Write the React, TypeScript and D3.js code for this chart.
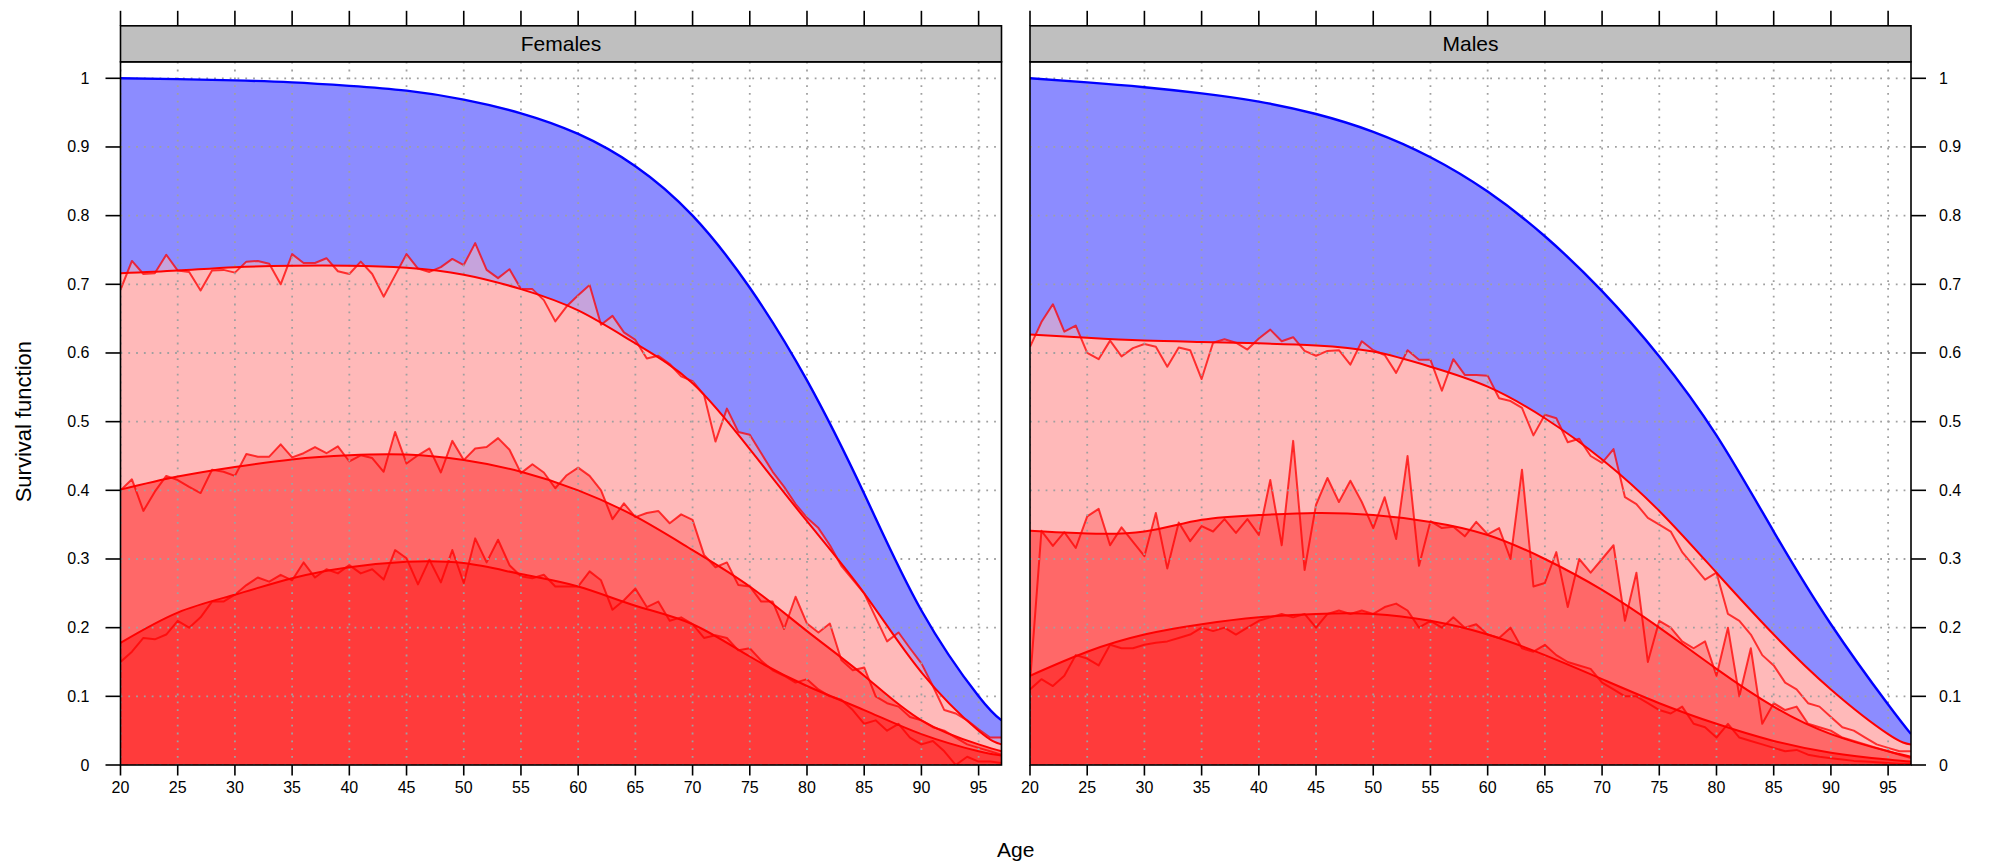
import React from "react";
import * as d3 from "d3";

// ---------- data ----------
const AGES = d3.range(20, 98); // single years of age 20..97
const KNOTS = [20, 25, 30, 35, 40, 45, 50, 55, 60, 65, 70, 75, 80, 85, 90, 95, 97];
const X_TICKS = [20, 25, 30, 35, 40, 45, 50, 55, 60, 65, 70, 75, 80, 85, 90, 95];
const Y_TICKS = [0, 0.1, 0.2, 0.3, 0.4, 0.5, 0.6, 0.7, 0.8, 0.9, 1];
const Y_LABELS = ["0", "0.1", "0.2", "0.3", "0.4", "0.5", "0.6", "0.7", "0.8", "0.9", "1"];
const PANELS = ["Females", "Males"];

// Females
const F_BLUE = [1.0, 0.9988, 0.997, 0.994, 0.989, 0.982, 0.969, 0.949, 0.919, 0.872, 0.8, 0.695, 0.56, 0.395, 0.225, 0.1, 0.065];
const F_S1 = [0.716, 0.72, 0.725, 0.727, 0.727, 0.724, 0.714, 0.693, 0.662, 0.614, 0.556, 0.46, 0.355, 0.25, 0.135, 0.05, 0.03];
const F_S2 = [0.401, 0.42, 0.434, 0.445, 0.451, 0.452, 0.444, 0.427, 0.4, 0.362, 0.313, 0.26, 0.195, 0.13, 0.065, 0.03, 0.02];
const F_S3 = [0.178, 0.222, 0.248, 0.272, 0.288, 0.296, 0.294, 0.278, 0.26, 0.232, 0.205, 0.158, 0.115, 0.08, 0.045, 0.02, 0.014];
const F_N1 = [
  0.692, 0.734, 0.715, 0.716, 0.743, 0.72, 0.718, 0.691, 0.72, 0.721,
  0.717, 0.733, 0.734, 0.73, 0.7, 0.744, 0.731, 0.731, 0.738, 0.719,
  0.715, 0.733, 0.715, 0.682, 0.713, 0.744, 0.723, 0.718, 0.725, 0.737,
  0.728, 0.76, 0.721, 0.709, 0.722, 0.693, 0.693, 0.677, 0.646, 0.668,
  0.684, 0.699, 0.641, 0.654, 0.63, 0.619, 0.592, 0.596, 0.584, 0.566,
  0.559, 0.539, 0.471, 0.519, 0.485, 0.481, 0.454, 0.427, 0.405, 0.38,
  0.36, 0.345, 0.32, 0.29, 0.27, 0.25, 0.215, 0.18, 0.193, 0.17,
  0.148, 0.115, 0.08, 0.075, 0.065, 0.052, 0.04, 0.04,
];
const F_N2 = [
  0.4, 0.416, 0.37, 0.398, 0.421, 0.415, 0.405, 0.396, 0.43, 0.427,
  0.421, 0.453, 0.449, 0.449, 0.467, 0.448, 0.454, 0.463, 0.454, 0.464,
  0.442, 0.451, 0.447, 0.427, 0.485, 0.439, 0.451, 0.461, 0.426, 0.472,
  0.444, 0.461, 0.463, 0.476, 0.459, 0.425, 0.438, 0.426, 0.403, 0.422,
  0.433, 0.421, 0.4, 0.358, 0.381, 0.361, 0.367, 0.37, 0.352, 0.365,
  0.357, 0.306, 0.288, 0.295, 0.262, 0.26, 0.238, 0.238, 0.198, 0.245,
  0.206, 0.193, 0.206, 0.153, 0.138, 0.142, 0.1, 0.09, 0.085, 0.07,
  0.065, 0.055, 0.05, 0.04, 0.03, 0.025, 0.02, 0.015,
];
const F_N3 = [
  0.15, 0.165, 0.185, 0.183, 0.19, 0.21, 0.2, 0.215, 0.238, 0.238,
  0.248, 0.262, 0.273, 0.267, 0.277, 0.269, 0.295, 0.273, 0.285, 0.279,
  0.291, 0.279, 0.285, 0.27, 0.313, 0.301, 0.263, 0.299, 0.266, 0.313,
  0.265, 0.33, 0.295, 0.328, 0.291, 0.275, 0.272, 0.277, 0.26, 0.26,
  0.26, 0.282, 0.269, 0.226, 0.24, 0.257, 0.23, 0.238, 0.21, 0.215,
  0.205, 0.185, 0.189, 0.185, 0.167, 0.17, 0.152, 0.138, 0.13, 0.12,
  0.125, 0.11, 0.1, 0.095, 0.08, 0.06, 0.065, 0.05, 0.06, 0.04,
  0.03, 0.035, 0.02, 0.0, 0.012, 0.005, 0.005, 0.003,
];

// Males
const M_BLUE = [1.0, 0.994, 0.987, 0.978, 0.966, 0.948, 0.922, 0.885, 0.835, 0.77, 0.69, 0.595, 0.48, 0.34, 0.205, 0.088, 0.045];
const M_S1 = [0.627, 0.622, 0.618, 0.616, 0.614, 0.611, 0.602, 0.58, 0.551, 0.505, 0.445, 0.37, 0.28, 0.19, 0.11, 0.045, 0.03];
const M_S2 = [0.341, 0.337, 0.34, 0.357, 0.364, 0.367, 0.364, 0.354, 0.335, 0.3, 0.255, 0.2, 0.14, 0.085, 0.045, 0.02, 0.012];
const M_S3 = [0.13, 0.165, 0.19, 0.205, 0.215, 0.22, 0.22, 0.21, 0.19, 0.16, 0.125, 0.09, 0.06, 0.035, 0.018, 0.008, 0.005];
const M_N1 = [
  0.609, 0.645, 0.671, 0.631, 0.64, 0.6, 0.591, 0.618, 0.595, 0.607,
  0.613, 0.609, 0.58, 0.608, 0.604, 0.562, 0.615, 0.62, 0.615, 0.605,
  0.621, 0.634, 0.617, 0.623, 0.603, 0.596, 0.603, 0.604, 0.583, 0.617,
  0.604, 0.597, 0.571, 0.604, 0.59, 0.59, 0.545, 0.591, 0.568, 0.568,
  0.567, 0.534, 0.53, 0.52, 0.48, 0.51, 0.505, 0.47, 0.475, 0.45,
  0.44, 0.46, 0.39, 0.38, 0.36, 0.35, 0.34, 0.31, 0.29, 0.27,
  0.28, 0.22, 0.21, 0.19, 0.16, 0.145, 0.12, 0.11, 0.09, 0.085,
  0.07, 0.055, 0.05, 0.04, 0.03, 0.025, 0.02, 0.02,
];
const M_N2 = [
  0.12, 0.341, 0.319, 0.339, 0.316, 0.362, 0.373, 0.32, 0.346, 0.325,
  0.304, 0.367, 0.286, 0.353, 0.326, 0.348, 0.34, 0.358, 0.338, 0.358,
  0.335, 0.415, 0.32, 0.472, 0.284, 0.379, 0.418, 0.383, 0.414, 0.383,
  0.345, 0.39, 0.329, 0.45, 0.29, 0.355, 0.345, 0.347, 0.333, 0.354,
  0.336, 0.345, 0.3, 0.43, 0.26, 0.265, 0.31, 0.23, 0.3, 0.28,
  0.3, 0.32, 0.21, 0.28, 0.15, 0.21, 0.2, 0.18, 0.17, 0.18,
  0.13, 0.2, 0.1, 0.17, 0.06, 0.09, 0.08, 0.085, 0.06, 0.055,
  0.05, 0.04, 0.035, 0.03, 0.025, 0.02, 0.015, 0.01,
];
const M_N3 = [
  0.11, 0.125, 0.115, 0.13, 0.16, 0.155, 0.145, 0.175, 0.17, 0.17,
  0.175, 0.178, 0.18, 0.185, 0.19, 0.2, 0.195, 0.2, 0.19, 0.2,
  0.21, 0.215, 0.22, 0.215, 0.22, 0.2, 0.22, 0.225, 0.22, 0.225,
  0.22, 0.23, 0.235, 0.225, 0.2, 0.21, 0.2, 0.215, 0.2, 0.205,
  0.19, 0.185, 0.2, 0.17, 0.165, 0.175, 0.16, 0.15, 0.145, 0.14,
  0.12, 0.11, 0.1, 0.1, 0.09, 0.08, 0.075, 0.085, 0.06, 0.055,
  0.04, 0.06, 0.04, 0.035, 0.03, 0.025, 0.02, 0.022, 0.015, 0.012,
  0.01, 0.008, 0.006, 0.005, 0.004, 0.003, 0.002, 0.002,
];

const DATA = [
  { blue: F_BLUE, smooth: [F_S1, F_S2, F_S3], noisy: [F_N1, F_N2, F_N3] },
  { blue: M_BLUE, smooth: [M_S1, M_S2, M_S3], noisy: [M_N1, M_N2, M_N3] },
];

// ---------- styling ----------
const W = 2012;
const H = 865;
const PANEL_X0 = [120.5, 1030];
const PANEL_W = 881;
const Y0 = 765;
const Y1 = 78.3;
const Y_MAX = 1.024;
const STRIP_H = 36;
const TICK = 15;
const FONT = "'Liberation Sans', Arial, Helvetica, sans-serif";
const BLUE_FILL = "#8C8CFF";
const BLUE_LINE = "#0000FF";
const LAYER_FILL = ["#FFB9B9", "#FF6868", "#FF3B3B"];
const GRID = "#A0A0A0";

function Panel({ idx }: { idx: number }) {
  const x0 = PANEL_X0[idx];
  const d = DATA[idx];
  const x = d3.scaleLinear().domain([20, 97]).range([x0, x0 + PANEL_W]);
  const y = d3.scaleLinear().domain([0, 1]).range([Y0, Y1]);
  const top = y(Y_MAX);
  const clipId = `clip${idx}`;

  const knotArea = d3
    .area<number>()
    .x((_, i) => x(KNOTS[i]))
    .y0(y(0))
    .y1((v) => y(v))
    .curve(d3.curveNatural);
  const knotLine = d3
    .line<number>()
    .x((_, i) => x(KNOTS[i]))
    .y((v) => y(v))
    .curve(d3.curveNatural);
  const ageArea = d3
    .area<number>()
    .x((_, i) => x(AGES[i]))
    .y0(y(0))
    .y1((v) => y(v));
  const ageLine = d3
    .line<number>()
    .x((_, i) => x(AGES[i]))
    .y((v) => y(v));

  return (
    <g>
      <defs>
        <clipPath id={clipId}>
          <rect x={x0} y={top} width={PANEL_W} height={Y0 - top} />
        </clipPath>
      </defs>
      <g clipPath={`url(#${clipId})`}>
        <path d={knotArea(d.blue) || ""} fill={BLUE_FILL} />
        {[0, 1, 2].map((k) => (
          <g key={k}>
            <path d={knotArea(d.smooth[k]) || ""} fill={LAYER_FILL[k]} />
            <path d={ageArea(d.noisy[k]) || ""} fill={LAYER_FILL[k]} fillOpacity={0.5} />
            <path d={ageLine(d.noisy[k]) || ""} fill="none" stroke="#FF0000" strokeOpacity={0.75} strokeWidth={2} strokeLinejoin="round" />
          </g>
        ))}
        {/* grid */}
        {X_TICKS.map((t) => (
          <line key={"gx" + t} x1={x(t)} x2={x(t)} y1={top} y2={Y0} stroke={GRID} strokeWidth={1.8} strokeDasharray="1.8 6" />
        ))}
        {Y_TICKS.map((t) => (
          <line key={"gy" + t} x1={x0} x2={x0 + PANEL_W} y1={y(t)} y2={y(t)} stroke={GRID} strokeWidth={1.8} strokeDasharray="1.8 6" />
        ))}
        {[0, 1, 2].map((k) => (
          <path key={"s" + k} d={knotLine(d.smooth[k]) || ""} fill="none" stroke="#FF0000" strokeWidth={2} />
        ))}
        <path d={knotLine(d.blue) || ""} fill="none" stroke={BLUE_LINE} strokeWidth={2.4} />
      </g>
      {/* panel border */}
      <rect x={x0} y={top} width={PANEL_W} height={Y0 - top} fill="none" stroke="#000" strokeWidth={1.6} />
      {/* strip */}
      <rect x={x0} y={top - STRIP_H} width={PANEL_W} height={STRIP_H} fill="#BFBFBF" stroke="#000" strokeWidth={1.6} />
      <text x={x0 + PANEL_W / 2} y={top - STRIP_H / 2 + 7.5} textAnchor="middle" fontSize={21} fontFamily={FONT}>
        {PANELS[idx]}
      </text>
      {/* top ticks */}
      {X_TICKS.map((t) => (
        <line key={"tt" + t} x1={x(t)} x2={x(t)} y1={top - STRIP_H} y2={top - STRIP_H - TICK} stroke="#000" strokeWidth={1.6} />
      ))}
      {/* bottom ticks + labels */}
      {X_TICKS.map((t) => (
        <g key={"bt" + t}>
          <line x1={x(t)} x2={x(t)} y1={Y0} y2={Y0 + TICK * 0.7} stroke="#000" strokeWidth={1.6} />
          <text x={x(t)} y={Y0 + 28} textAnchor="middle" fontSize={16} fontFamily={FONT}>
            {t}
          </text>
        </g>
      ))}
      {/* y ticks */}
      {Y_TICKS.map((t, i) =>
        idx === 0 ? (
          <g key={"yt" + t}>
            <line x1={x0} x2={x0 - TICK} y1={y(t)} y2={y(t)} stroke="#000" strokeWidth={1.6} />
            <text x={x0 - 31} y={y(t) + 5.5} textAnchor="end" fontSize={16} fontFamily={FONT}>
              {Y_LABELS[i]}
            </text>
          </g>
        ) : (
          <g key={"yt" + t}>
            <line x1={x0 + PANEL_W} x2={x0 + PANEL_W + TICK} y1={y(t)} y2={y(t)} stroke="#000" strokeWidth={1.6} />
            <text x={x0 + PANEL_W + 28} y={y(t) + 5.5} textAnchor="start" fontSize={16} fontFamily={FONT}>
              {Y_LABELS[i]}
            </text>
          </g>
        )
      )}
    </g>
  );
}

export default function App() {
  return (
    <svg
      width={W}
      height={H}
      viewBox={`0 0 ${W} ${H}`}
      style={{ position: "absolute", left: 0, top: 0, display: "block" }}
    >
      <rect x={0} y={0} width={W} height={H} fill="#FFFFFF" />
      <Panel idx={0} />
      <Panel idx={1} />
      <text x={(PANEL_X0[0] + PANEL_X0[1] + PANEL_W) / 2} y={857} textAnchor="middle" fontSize={21} fontFamily={FONT}>
        Age
      </text>
      <text
        transform={`translate(31,${(Y0 + Y1) / 2}) rotate(-90)`}
        textAnchor="middle"
        fontSize={22}
        fontFamily={FONT}
      >
        Survival function
      </text>
    </svg>
  );
}
